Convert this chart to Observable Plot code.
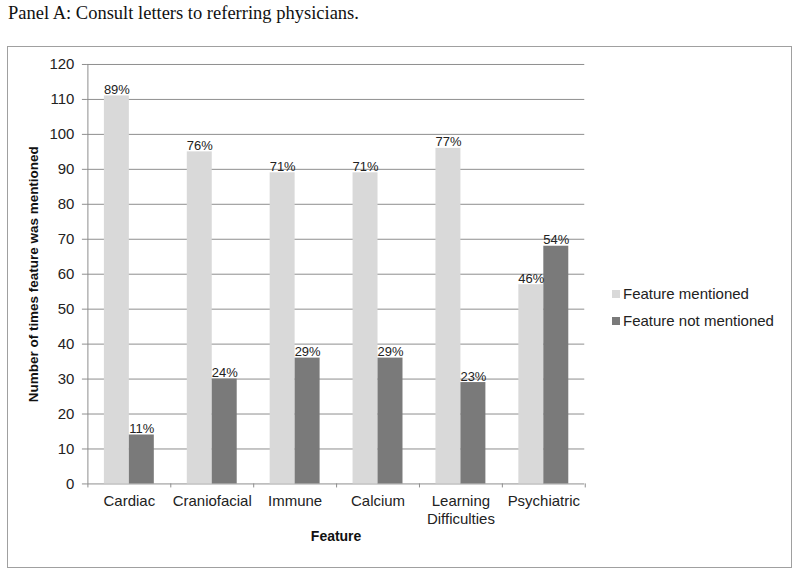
<!DOCTYPE html>
<html>
<head>
<meta charset="utf-8">
<script src="https://cdn.jsdelivr.net/npm/d3@7"></script>
<script src="https://cdn.jsdelivr.net/npm/@observablehq/plot@0.6"></script>
<style>
  body { margin: 0; background: #fff; width: 800px; height: 576px; position: relative; overflow: hidden; }
  #title { position: absolute; left: 8px; top: 3px; font-family: "Liberation Serif", "Times New Roman", serif; font-size: 18.5px; color: #111; white-space: nowrap; }
  #box { position: absolute; left: 7px; top: 46px; width: 783px; height: 520px; border: 1px solid #a0a0a0; }
  #chart { position: absolute; left: 0; top: 0; }
  #legend { position: absolute; left: 604px; top: 233px; font-family: "Liberation Sans", Arial, sans-serif; font-size: 15px; color: #222; }
  .li { display: flex; align-items: center; height: 27px; }
  .sw { width: 8px; height: 8px; margin-right: 3px; }
</style>
</head>
<body>
<div id="title">Panel A: Consult letters to referring physicians.</div>
<div id="box">
  <div id="chart"></div>
  <div id="legend"></div>
</div>
<script>
const categories = ["Cardiac", "Craniofacial", "Immune", "Calcium", "Learning Difficulties", "Psychiatric"];
const tickLabels = ["Cardiac", "Craniofacial", "Immune", "Calcium", "Learning\nDifficulties", "Psychiatric"];
const mentioned = [111, 95, 89, 89, 96, 57];
const notMentioned = [14, 30, 36, 36, 29, 68];
const pctMentioned = ["89%", "76%", "71%", "71%", "77%", "46%"];
const pctNotMentioned = ["11%", "24%", "29%", "29%", "23%", "54%"];
const seriesNames = ["Feature mentioned", "Feature not mentioned"];
const seriesColors = ["#d9d9d9", "#7a7a7a"];
const yTicks = d3.range(0, 121, 10);

const dataM = categories.map((c, i) => ({cat: c, v: mentioned[i], pct: pctMentioned[i]}));
const dataN = categories.map((c, i) => ({cat: c, v: notMentioned[i], pct: pctNotMentioned[i]}));
const labelOf = new Map(categories.map((c, i) => [c, tickLabels[i]]));
const font = "'Liberation Sans', Arial, sans-serif";

const chart = Plot.plot({
  width: 784,
  height: 520,
  marginLeft: 79,
  marginRight: 207,
  marginTop: 17,
  marginBottom: 83,
  style: {fontFamily: font, color: "#222", background: "transparent", overflow: "visible"},
  x: {domain: categories, paddingInner: 0.4, paddingOuter: 0.2, axis: null},
  y: {domain: [0, 120], axis: null},
  marks: [
    Plot.ruleY(yTicks, {stroke: "#8e8e8e", strokeWidth: 1}),
    Plot.barY(dataM, {x: "cat", y: "v", fill: seriesColors[0], insetRight: 25}),
    Plot.barY(dataN, {x: "cat", y: "v", fill: seriesColors[1], insetLeft: 25}),
    Plot.text(dataM, {x: "cat", y: "v", text: "pct", dx: -12.5, dy: -2, lineAnchor: "bottom", fontSize: 13, fill: "#222"}),
    Plot.text(dataN, {x: "cat", y: "v", text: "pct", dx: 12.5, dy: -2, lineAnchor: "bottom", fontSize: 13, fill: "#222"}),
    // y axis line
    Plot.ruleX([categories[0]], {x: d => d, dx: -41.5, y1: 0, y2: 120, stroke: "#8e8e8e"}),
    // axes
    Plot.axisY({ticks: yTicks, tickSize: 5, tickPadding: 8, fontSize: 15, stroke: "#8e8e8e", fill: "#222", label: null}),
    Plot.axisX({tickSize: 0, tickPadding: 9, fontSize: 15, lineHeight: 1.2, fill: "#222", tickFormat: d => labelOf.get(d), label: null}),
    // boundary ticks on x axis
    Plot.ruleX(categories, {x: d => d, dx: -41.5, y1: 0, y2: 0, insetBottom: -4, stroke: "#8e8e8e"}),
    Plot.ruleX([categories[categories.length - 1]], {x: d => d, dx: 41.5, y1: 0, y2: 0, insetBottom: -4, stroke: "#8e8e8e"}),
    // axis titles
    Plot.text(["Feature"], {frameAnchor: "bottom", dy: 57, fontSize: 14, fontWeight: "bold", fill: "#111"}),
    Plot.text(["Number of times feature was mentioned"], {frameAnchor: "left", textAnchor: "middle", dx: -54, rotate: -90, fontSize: 13.5, fontWeight: "bold", fill: "#111"})
  ]
});
document.getElementById("chart").appendChild(chart);

const legend = document.getElementById("legend");
seriesNames.forEach((name, i) => {
  const row = document.createElement("div");
  row.className = "li";
  const sw = document.createElement("span");
  sw.className = "sw";
  sw.style.background = seriesColors[i];
  const t = document.createElement("span");
  t.textContent = name;
  row.appendChild(sw);
  row.appendChild(t);
  legend.appendChild(row);
});
</script>
</body>
</html>
